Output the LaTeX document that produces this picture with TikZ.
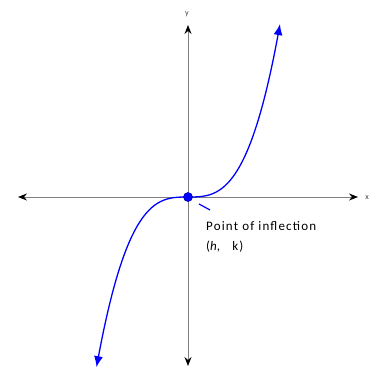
\documentclass[tikz,border=0pt]{standalone}
\usepackage{fontspec}
\setmainfont{Carlito}
\newfontfamily\spaced[LetterSpace=9]{Carlito}
\usetikzlibrary{arrows.meta}
\begin{document}
\begin{tikzpicture}[x=1pt,y=-1pt,
  axis/.style={draw=gray, line width=0.9pt, {Stealth[black,length=9pt,width=7pt,inset=3pt]}-{Stealth[black,length=9pt,width=7pt,inset=3pt]}},
  curve/.style={draw=blue, line width=1.3pt},
  lbl/.style={font=\fontsize{8}{9}\selectfont, text=black!75},
  txt/.style={font=\spaced\fontsize{13}{15}\selectfont, anchor=west, inner sep=0pt}]
\useasboundingbox (0,0) rectangle (379,371);
\coordinate (O) at (188,197);
\coordinate (xl) at (18,197);
\coordinate (xr) at (358,197);
\coordinate (yt) at (188,25);
\coordinate (yb) at (188,366);
\draw[axis] (xl) -- (xr);
\draw[axis] (yb) -- (yt);
\node[lbl] (xlab) at (367,198) {x};
\node[lbl] (ylab) at (187,14) {y};
\draw[curve, {Latex[length=11pt,width=9pt]}-{Latex[length=11pt,width=9pt]}]
  plot[domain=-9.15:9.2, samples=120, smooth] ({188+10*\x},{197-0.22217*\x*\x*\x});
\node[circle, fill=blue, draw=blue!70!black, line width=0.6pt, inner sep=0pt, minimum size=9pt] (P) at (O) {};
\coordinate (t1) at (199,204);
\coordinate (t2) at (210,210);
\draw[blue, line width=1.2pt] (t1) -- (t2);
\node[txt] (pt) at (206,226) {Point of inflection};
\node[txt] (hk) at (206,247) {(\textit{h},\ \ \ k)};
\end{tikzpicture}
\end{document}
